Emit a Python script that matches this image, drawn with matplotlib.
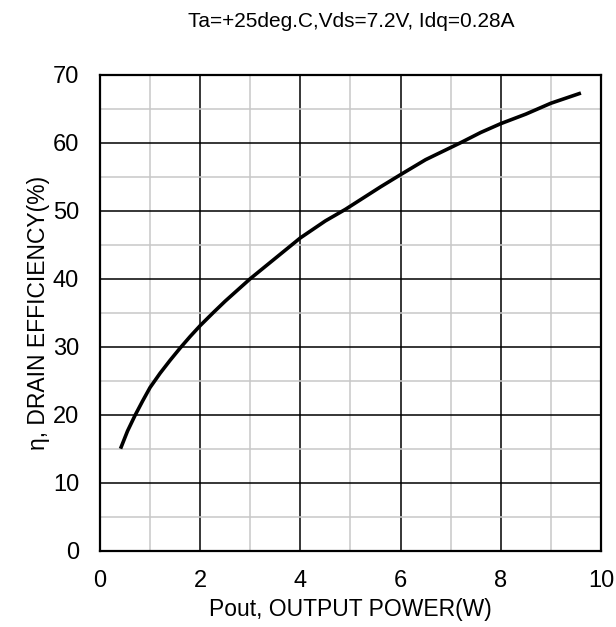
import numpy as np
import matplotlib
matplotlib.use("Agg")
import matplotlib.pyplot as plt
from matplotlib.ticker import MultipleLocator

plt.rcParams['font.family'] = ['Liberation Sans', 'DejaVu Sans']

# values
pout = [0.41, 0.55, 0.7, 0.85, 1.0, 1.2, 1.4, 1.6, 1.8, 2.0, 2.26, 2.5, 3.0, 3.5, 4.0, 4.5, 4.9,
        5.6, 6.0, 6.5, 7.2, 7.6, 8.0, 8.5, 9.0, 9.6]
eff = [15.0, 17.6, 19.9, 22.0, 24.0, 26.1, 28.0, 29.8, 31.5, 33.1, 35.0, 36.7, 40.0, 43.0, 46.0, 48.5, 50.2,
       53.5, 55.3, 57.5, 60.0, 61.5, 62.8, 64.2, 65.8, 67.3]

title = "Ta=+25deg.C,Vds=7.2V, Idq=0.28A"
xlabel = "Pout, OUTPUT POWER(W)"
ylabel = "η, DRAIN EFFICIENCY(%)"

fig = plt.figure(figsize=(6.16, 6.27), dpi=100)
ax = fig.add_axes([0.1623, 0.1217, 0.8133, 0.7592])

ax.plot(pout, eff, color="black", lw=2.6, solid_capstyle="butt", solid_joinstyle="round", zorder=3)

ax.set_xlim(0, 10)
ax.set_ylim(0, 70)
ax.xaxis.set_major_locator(MultipleLocator(2))
ax.xaxis.set_minor_locator(MultipleLocator(1))
ax.yaxis.set_major_locator(MultipleLocator(10))
ax.yaxis.set_minor_locator(MultipleLocator(5))
ax.grid(which="minor", color="#c8c8c8", lw=1.1)
ax.grid(which="major", color="black", lw=1.1)
ax.set_axisbelow(True)
ax.tick_params(which="both", length=0, labelsize=17)
ax.tick_params(axis="x", pad=14)
ax.tick_params(axis="y", pad=15)
for s in ax.spines.values():
    s.set_linewidth(1.6)

ax.set_xlabel(xlabel, fontsize=16.5, labelpad=4)
ax.set_ylabel(ylabel, fontsize=16.5, labelpad=2)
fig.text(0.571, 0.965, title, ha="center", va="center", fontsize=15)

fig.savefig("out.png", dpi=100)
